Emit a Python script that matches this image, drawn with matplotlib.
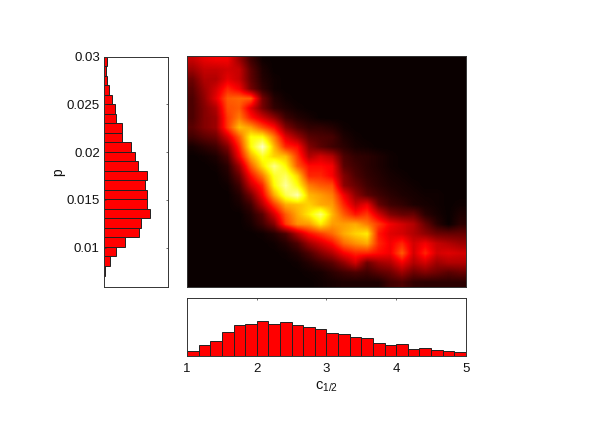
import numpy as np
import matplotlib
matplotlib.use("Agg")
import matplotlib.pyplot as plt

plt.rcParams['font.family'] = ['Liberation Sans', 'DejaVu Sans']
plt.rcParams['mathtext.fontset'] = 'custom'
plt.rcParams['mathtext.rm'] = 'Liberation Sans'
plt.rcParams['mathtext.it'] = 'Liberation Sans'

p_heights = [4,17,36,62,106,112,137,130,130,124,130,102,93,82,55,55,36,33,25,16,10,7,8]
c_heights = [15,34,46,73,93,97,106,97,102,94,89,81,71,66,57,54,39,33,36,21,25,18,16,12]
x_ticks = [1,2,3,4,5]
p_ticks = [0.01,0.015,0.02,0.025,0.03]
p_tick_labels = ['0.01','0.015','0.02','0.025','0.03']

rows = [
 [28,33,35,35,22,8,1,0,0,0,0,0,0,0,0,0,0,0,0,0,0,0,0,0],
 [22,28,28,30,28,12,3,0,0,0,0,0,0,0,0,0,0,0,0,0,0,0,0,0],
 [15,25,25,33,28,13,4,1,0,0,0,0,0,0,0,0,0,0,0,0,0,0,0,0],
 [12,22,30,42,35,16,6,1,0,0,0,0,0,0,0,0,0,0,0,0,0,0,0,0],
 [10,20,33,50,52,50,16,4,1,0,0,0,0,0,0,0,0,0,0,0,0,0,0,0],
 [10,18,25,48,50,32,16,6,3,1,0,0,0,0,0,0,0,0,0,0,0,0,0,0],
 [10,18,22,45,55,40,30,20,8,4,2,0,0,0,0,0,0,0,0,0,0,0,0,0],
 [12,18,22,45,65,60,48,38,18,10,6,6,4,1,0,0,0,0,0,0,0,0,0,0],
 [8,12,15,30,50,75,75,55,32,22,12,10,9,3,1,0,0,0,0,0,0,0,0,0],
 [2,5,8,18,42,74,94,64,42,38,18,12,8,5,2,1,0,0,0,0,0,0,0,0],
 [0,1,3,10,35,62,78,68,65,45,25,30,25,10,6,5,3,1,0,0,0,0,0,0],
 [0,0,1,5,22,50,70,88,74,50,38,38,35,12,8,5,3,1,0,0,0,0,0,0],
 [0,0,0,3,14,38,55,78,84,68,42,42,36,18,10,6,4,2,1,0,0,0,0,0],
 [0,0,0,1,8,28,42,74,90,76,55,50,48,20,14,8,5,3,2,1,0,0,0,0],
 [0,0,0,0,4,16,35,62,82,92,64,60,55,35,20,12,8,5,3,2,1,1,0,0],
 [0,0,0,0,2,8,25,45,62,65,68,62,60,42,28,34,14,8,6,3,2,1,0,1],
 [0,0,0,0,0,4,12,30,50,62,72,86,64,50,40,45,30,18,14,14,5,2,0,3],
 [0,0,0,0,0,2,8,18,45,58,60,72,60,60,62,55,45,35,30,25,14,5,0,5],
 [0,0,0,0,0,0,1,4,10,25,38,45,52,62,68,72,40,32,30,25,20,15,14,14],
 [0,0,0,0,0,0,0,1,4,10,22,30,38,52,58,62,42,35,42,30,35,28,25,22],
 [0,0,0,0,0,0,0,0,1,4,10,18,25,36,42,42,38,35,50,30,42,30,32,30],
 [0,0,0,0,0,0,0,0,0,1,4,8,12,20,30,15,22,25,35,25,30,22,25,25],
 [0,0,0,0,0,0,0,0,0,0,1,2,5,8,10,8,12,15,22,15,18,15,12,14],
 [0,0,0,0,0,0,0,0,0,0,0,1,2,3,3,3,3,8,10,6,5,5,5,5],
]

W, H = 600, 422
def box(l, t, r, b):
    return [l/W, 1-b/H, (r-l)/W, (b-t)/H]

fig = plt.figure(figsize=(6, 4.22), dpi=100)
edge = '#333333'
txt = '#111111'

ax = fig.add_axes(box(187, 55.5, 466, 287))
ax.imshow(np.array(rows)/100, cmap='hot', vmin=0, vmax=1, aspect='auto',
          interpolation='bilinear', extent=[1, 5, 0.0059, 0.03])
ax.set_xticks([]); ax.set_yticks([])
for s in ax.spines.values():
    s.set_linewidth(0.7); s.set_color(edge)

axl = fig.add_axes(box(104, 56.5, 168, 287))
y_edges = np.linspace(0.0071, 0.03, len(p_heights)+1)
axl.barh((y_edges[:-1]+y_edges[1:])/2, p_heights, height=y_edges[1]-y_edges[0],
         color='#ff0000', edgecolor='#222222', linewidth=0.7)
axl.set_xlim(0, 192); axl.set_ylim(0.0059, 0.03)
axl.set_yticks(p_ticks); axl.set_yticklabels(p_tick_labels, fontsize=9.5, color=txt)
axl.set_xticks([])
axl.tick_params(axis='y', direction='in', length=1.5, width=0.5, right=True, pad=3, color=edge)
axl.set_ylabel('p', fontsize=10, labelpad=1, color=txt)
for s in axl.spines.values():
    s.set_linewidth(0.7); s.set_color(edge)

axb = fig.add_axes(box(187, 297.5, 466, 356))
x_edges = np.linspace(1, 5, len(c_heights)+1)
axb.bar((x_edges[:-1]+x_edges[1:])/2, c_heights, width=x_edges[1]-x_edges[0],
        color='#ff0000', edgecolor='#222222', linewidth=0.7)
axb.set_xlim(1, 5); axb.set_ylim(0, 177)
axb.set_xticks(x_ticks); axb.set_xticklabels([str(t) for t in x_ticks], fontsize=9.5, color=txt)
axb.set_yticks([])
axb.tick_params(axis='x', direction='in', length=1.5, width=0.5, top=True, pad=5, color=edge)
axb.set_xlabel(r'c$_{1/2}$', fontsize=10.5, labelpad=3, color=txt)
for s in axb.spines.values():
    s.set_linewidth(0.7); s.set_color(edge)

fig.savefig('out.png', dpi=100)
